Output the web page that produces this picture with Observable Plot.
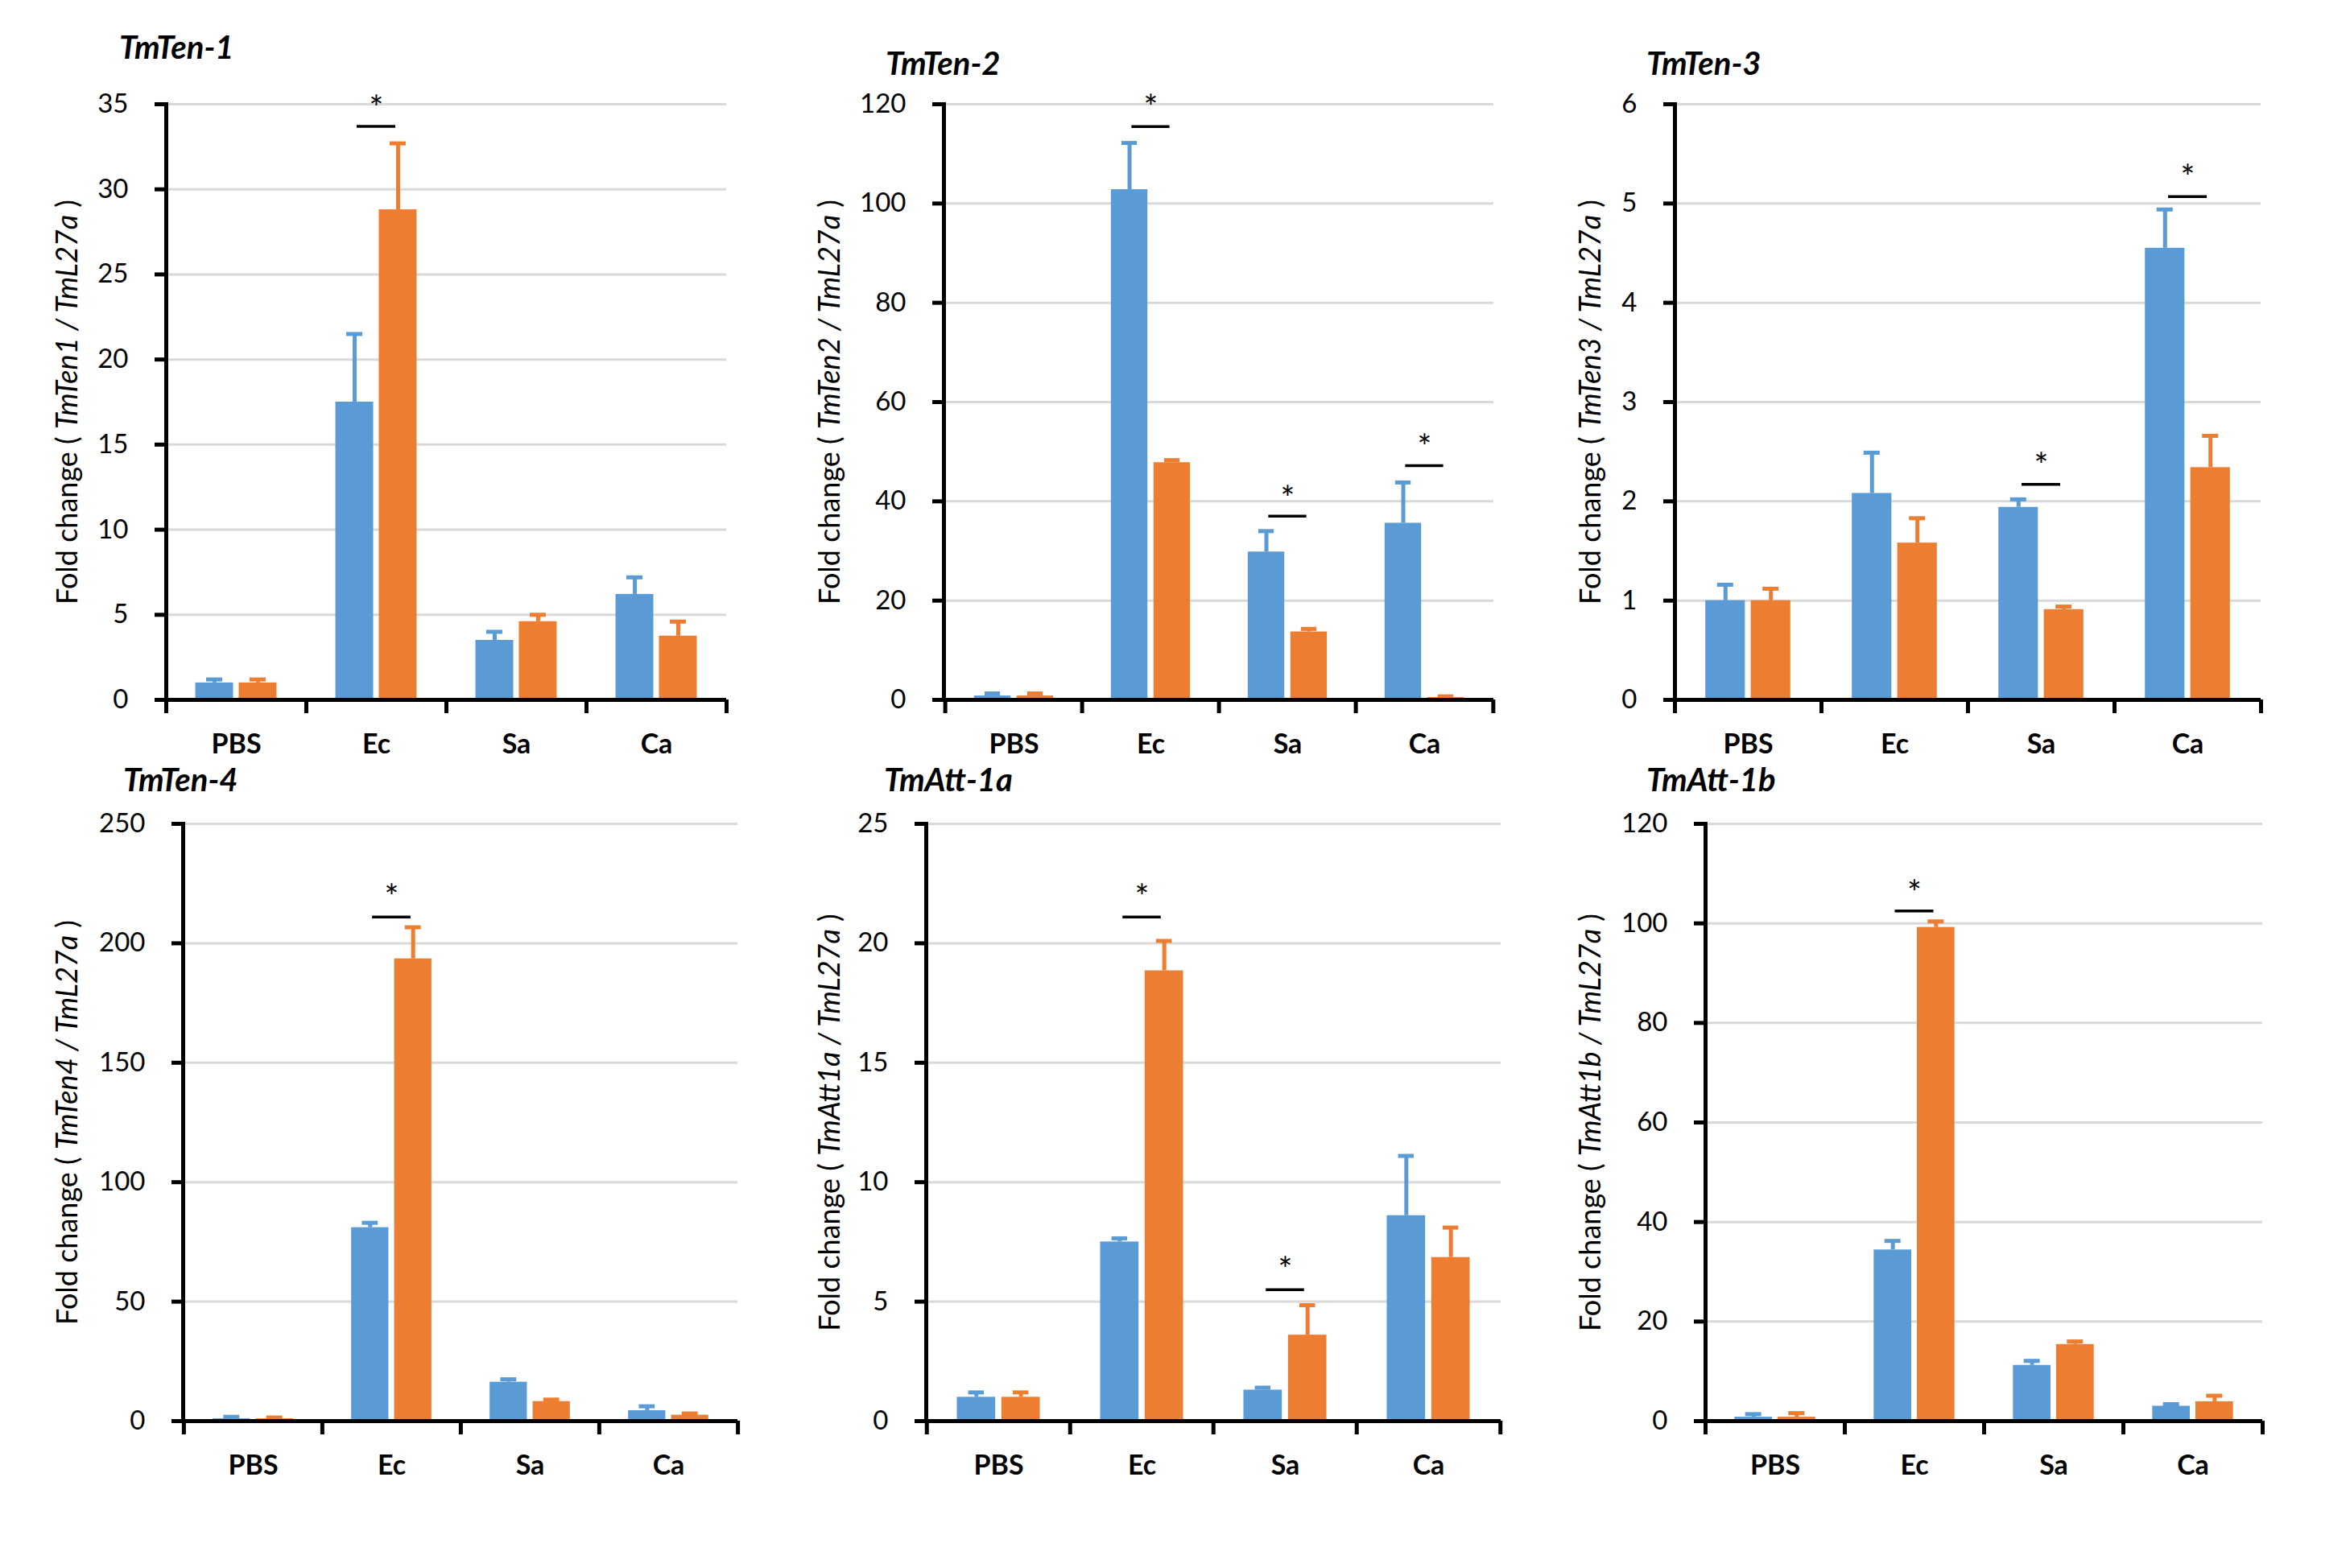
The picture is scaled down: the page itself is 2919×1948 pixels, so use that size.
<!DOCTYPE html>
<html>
<head>
<meta charset="utf-8">
<script src="https://cdn.jsdelivr.net/npm/d3@7"></script>
<script src="https://cdn.jsdelivr.net/npm/@observablehq/plot@0.6"></script>
<style>
  html, body { margin: 0; padding: 0; background: #fff; }
  #page { position: relative; width: 2919px; height: 1948px; overflow: hidden; background: #fff; font-family: Lato, "Open Sans", sans-serif; }
  .title { position: absolute; font-family: Lato, sans-serif; font-style: italic; font-weight: 700; font-size: 40px; line-height: 1; color: #000; white-space: nowrap; }
  .panel { position: absolute; }
</style>
</head>
<body>
<div id="page"></div>
<script>
// ---------------- DATA ----------------
const categories = ["PBS", "Ec", "Sa", "Ca"];

// TmTen-1
const ten1Blue       = [1.0, 17.5, 3.5, 6.2];
const ten1BlueHi     = [1.2, 21.5, 4.0, 7.2];
const ten1Orange     = [1.0, 28.8, 4.6, 3.75];
const ten1OrangeHi   = [1.2, 32.7, 5.0, 4.6];
const ten1Ticks      = [0, 5, 10, 15, 20, 25, 30, 35];
const ten1SigCats    = ["Ec"];
const ten1SigLine    = [33.7];
const ten1SigStar    = [35.3];

// TmTen-2
const ten2Blue       = [0.8, 102.8, 29.8, 35.6];
const ten2BlueHi     = [1.3, 112.2, 34.0, 43.8];
const ten2Orange     = [0.8, 47.8, 13.7, 0.5];
const ten2OrangeHi   = [1.3, 48.3, 14.3, 0.7];
const ten2Ticks      = [0, 20, 40, 60, 80, 100, 120];
const ten2SigCats    = ["Ec", "Sa", "Ca"];
const ten2SigLine    = [115.5, 37.0, 47.2];
const ten2SigStar    = [121.1, 42.3, 52.7];

// TmTen-3
const ten3Blue       = [1.0, 2.08, 1.94, 4.55];
const ten3BlueHi     = [1.16, 2.49, 2.02, 4.94];
const ten3Orange     = [1.0, 1.58, 0.91, 2.34];
const ten3OrangeHi   = [1.12, 1.83, 0.94, 2.66];
const ten3Ticks      = [0, 1, 2, 3, 4, 5, 6];
const ten3SigCats    = ["Sa", "Ca"];
const ten3SigLine    = [2.17, 5.07];
const ten3SigStar    = [2.45, 5.35];

// TmTen-4
const ten4Blue       = [1.0, 81, 16.3, 4.4];
const ten4BlueHi     = [1.8, 83, 17.5, 6.2];
const ten4Orange     = [1.0, 193.5, 8.2, 2.5];
const ten4OrangeHi   = [1.5, 206.7, 9.0, 3.2];
const ten4Ticks      = [0, 50, 100, 150, 200, 250];
const ten4SigCats    = ["Ec"];
const ten4SigLine    = [211];
const ten4SigStar    = [223];

// TmAtt-1a
const att1aBlue      = [1.0, 7.5, 1.3, 8.6];
const att1aBlueHi    = [1.2, 7.65, 1.4, 11.1];
const att1aOrange    = [1.0, 18.85, 3.6, 6.85];
const att1aOrangeHi  = [1.2, 20.1, 4.85, 8.1];
const att1aTicks     = [0, 5, 10, 15, 20, 25];
const att1aSigCats   = ["Ec", "Sa"];
const att1aSigLine   = [21.1, 5.5];
const att1aSigStar   = [22.3, 6.7];

// TmAtt-1b
const att1bBlue      = [0.8, 34.4, 11.2, 3.0];
const att1bBlueHi    = [1.4, 36.2, 12.1, 3.4];
const att1bOrange    = [0.8, 99.2, 15.4, 3.9];
const att1bOrangeHi  = [1.6, 100.4, 16.0, 5.1];
const att1bTicks     = [0, 20, 40, 60, 80, 100, 120];
const att1bSigCats   = ["Ec"];
const att1bSigLine   = [102.5];
const att1bSigStar   = [107.9];

const panelTitles = ["TmTen-1", "TmTen-2", "TmTen-3", "TmTen-4", "TmAtt-1a", "TmAtt-1b"];
const panelGenes  = ["TmTen1", "TmTen2", "TmTen3", "TmTen4", "TmAtt1a", "TmAtt1b"];
const refGene     = "TmL27a";

// ---------------- STYLE / LAYOUT ----------------
const BLUE = "#5B9BD5";
const ORANGE = "#ED7D31";
const GRID = "#D9D9D9";

// pixel layout of each panel: axis x, right end x, top y, zero y, y-label centre x, title x, title baseline
const layouts = [
  {axisX: 206,  right: 902,  top: 129,  zero: 869,  labelX: 84,   titleX: 148,  titleBase: 73},
  {axisX: 1172, right: 1855, top: 129,  zero: 869,  labelX: 1031, titleX: 1100, titleBase: 93},
  {axisX: 2080, right: 2808, top: 129,  zero: 869,  labelX: 1976, titleX: 2045, titleBase: 93},
  {axisX: 227,  right: 916,  top: 1023, zero: 1765, labelX: 84,   titleX: 153,  titleBase: 983},
  {axisX: 1150, right: 1864, top: 1023, zero: 1765, labelX: 1031, titleX: 1098, titleBase: 983},
  {axisX: 2118, right: 2810, top: 1023, zero: 1765, labelX: 1976, titleX: 2045, titleBase: 983}
];

const series = [
  [ten1Blue, ten1BlueHi, ten1Orange, ten1OrangeHi, ten1Ticks, ten1SigCats, ten1SigLine, ten1SigStar],
  [ten2Blue, ten2BlueHi, ten2Orange, ten2OrangeHi, ten2Ticks, ten2SigCats, ten2SigLine, ten2SigStar],
  [ten3Blue, ten3BlueHi, ten3Orange, ten3OrangeHi, ten3Ticks, ten3SigCats, ten3SigLine, ten3SigStar],
  [ten4Blue, ten4BlueHi, ten4Orange, ten4OrangeHi, ten4Ticks, ten4SigCats, ten4SigLine, ten4SigStar],
  [att1aBlue, att1aBlueHi, att1aOrange, att1aOrangeHi, att1aTicks, att1aSigCats, att1aSigLine, att1aSigStar],
  [att1bBlue, att1bBlueHi, att1bOrange, att1bOrangeHi, att1bTicks, att1bSigCats, att1bSigLine, att1bSigStar]
];

const page = document.getElementById("page");

function drawPanel(k) {
  const L = layouts[k];
  const [blue, blueHi, orange, orangeHi, ticks, sigCats, sigLine, sigStar] = series[k];
  const ML = 200, MR = 24, MT = 110, MB = 100;
  const plotW = L.right - L.axisX, plotH = L.zero - L.top;
  const width = ML + plotW + MR, height = MT + plotH + MB;
  const bw = plotW / categories.length;
  const o = 0.21, b = 0.27, g = 0.04;
  const bc = (o + b / 2) * bw;               // blue bar centre within band
  const oc = (o + b + g + b / 2) * bw;       // orange bar centre within band
  const cap = 10;

  const blueData = categories.map((c, i) => ({cat: c, v: blue[i], hi: blueHi[i]}));
  const orangeData = categories.map((c, i) => ({cat: c, v: orange[i], hi: orangeHi[i]}));
  const sig = sigCats.map((c, i) => ({cat: c, line: sigLine[i], star: sigStar[i]}));
  const yMax = ticks[ticks.length - 1];

  const svg = Plot.plot({
    width, height,
    marginLeft: ML, marginRight: MR, marginTop: MT, marginBottom: MB,
    style: {fontFamily: "Lato, sans-serif", background: "transparent", overflow: "visible", color: "#000"},
    x: {domain: categories, padding: 0},
    y: {domain: [0, yMax]},
    marks: [
      Plot.gridY(ticks, {stroke: GRID, strokeOpacity: 1, strokeWidth: 3}),
      Plot.barY(blueData, {x: "cat", y: "v", fill: BLUE, insetLeft: o * bw, insetRight: bw - (o + b) * bw}),
      Plot.barY(orangeData, {x: "cat", y: "v", fill: ORANGE, insetLeft: (o + b + g) * bw, insetRight: o * bw}),
      Plot.ruleX(blueData, {x: "cat", y1: "v", y2: "hi", stroke: BLUE, strokeWidth: 5, dx: bc - bw / 2}),
      Plot.tickY(blueData, {x: "cat", y: "hi", stroke: BLUE, strokeWidth: 5, insetLeft: bc - cap, insetRight: bw - bc - cap}),
      Plot.ruleX(orangeData, {x: "cat", y1: "v", y2: "hi", stroke: ORANGE, strokeWidth: 5, dx: oc - bw / 2}),
      Plot.tickY(orangeData, {x: "cat", y: "hi", stroke: ORANGE, strokeWidth: 5, insetLeft: oc - cap, insetRight: bw - oc - cap}),
      Plot.ruleY([0], {stroke: "#000", strokeWidth: 5}),
      Plot.frame({anchor: "left", stroke: "#000", strokeWidth: 5}),
      Plot.axisY(ticks, {tickSize: 14, strokeWidth: 5, tickPadding: 33, fontSize: 33, label: null, tickFormat: d => String(d)}),
      Plot.axisX(categories, {tickSize: 17, strokeWidth: 5, dx: -bw / 2, tickFormat: () => "", label: null}),
      Plot.axisX(categories.slice(-1), {tickSize: 17, strokeWidth: 5, dx: bw / 2, tickFormat: () => "", label: null}),
      Plot.axisX(categories, {tickSize: 0, tickPadding: 42, fontSize: 34, fontWeight: "bold", label: null}),
      Plot.tickY(sig, {x: "cat", y: "line", stroke: "#000", strokeWidth: 3.5, insetLeft: bw / 2 - 24, insetRight: bw / 2 - 24}),
      Plot.text(sig, {x: "cat", y: "star", text: () => "*", fontSize: 42, dy: 12}),
      Plot.text([panelGenes[k]], {frameAnchor: "left", rotate: -90, textAnchor: "middle", dx: L.labelX - L.axisX, fontSize: 36,
        text: d => `Fold change (${d}/${refGene})`})
    ]
  });

  // italicise the gene names in the y label
  svg.querySelectorAll("text").forEach(t => {
    const s = t.textContent;
    if (s.startsWith("Fold change (")) {
      const inner = s.slice("Fold change (".length, -1);
      t.textContent = "";
      const ns = "http://www.w3.org/2000/svg";
      const a = document.createElementNS(ns, "tspan"); a.textContent = "Fold change ( ";
      const bI = document.createElementNS(ns, "tspan"); bI.textContent = inner.replace("/", " / ");
      bI.setAttribute("font-style", "italic");
      const c = document.createElementNS(ns, "tspan"); c.textContent = " )";
      t.append(a, bI, c);
    }
  });

  const wrap = document.createElement("div");
  wrap.className = "panel";
  wrap.style.left = (L.axisX - ML) + "px";
  wrap.style.top = (L.top - MT) + "px";
  wrap.appendChild(svg);
  page.appendChild(wrap);

  const title = document.createElement("div");
  title.className = "title";
  title.textContent = panelTitles[k];
  title.style.left = L.titleX + "px";
  title.style.top = (L.titleBase - 35.5) + "px";
  page.appendChild(title);
}

for (let k = 0; k < layouts.length; k++) drawPanel(k);
</script>
</body>
</html>
